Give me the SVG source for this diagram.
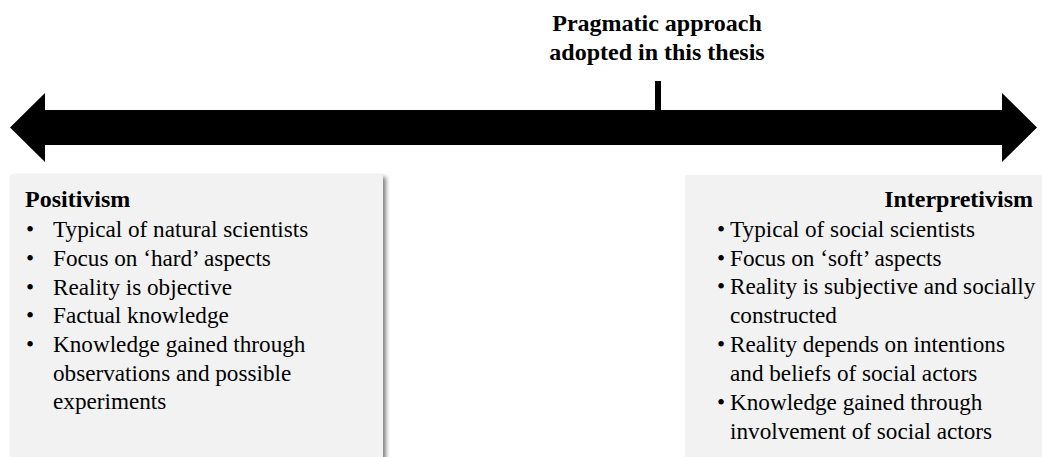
<svg xmlns="http://www.w3.org/2000/svg" width="1042" height="457" viewBox="0 0 1042 457">
  <defs>
    <filter id="shadow" x="-5%" y="-5%" width="115%" height="115%">
      <feGaussianBlur in="SourceAlpha" stdDeviation="2"/>
      <feOffset dx="3" dy="2" result="b"/>
      <feComponentTransfer><feFuncA type="linear" slope="0.5"/></feComponentTransfer>
      <feMerge><feMergeNode/><feMergeNode in="SourceGraphic"/></feMerge>
    </filter>
  </defs>
  <style>
    text { font-family: "Liberation Serif", "DejaVu Serif", serif; fill: #000; }
    .title { font-size: 24px; font-weight: bold; }
    .head { font-size: 24px; font-weight: bold; }
    .item { font-size: 23.2px; }
    .panel { fill: #f2f2f2; }
  </style>
  <rect width="1042" height="457" fill="#ffffff"/>

  <!-- caption above the scale -->
  <g id="pragmatic">
    <text class="title" x="657" y="31" text-anchor="middle">Pragmatic approach</text>
    <text class="title" x="657" y="60" text-anchor="middle">adopted in this thesis</text>
    <rect x="655" y="81" width="6" height="30" fill="#000"/>
  </g>

  <!-- double-headed scale arrow -->
  <g id="scale">
    <polygon points="10,127.5 45,93 45,110 1002,110 1002,93 1037,127.5 1002,162 1002,145 45,145 45,162" fill="#000"/>
  </g>

  <g id="positivism">
    <rect class="panel" x="10" y="175" width="373" height="300" filter="url(#shadow)"/>
    <text class="head" x="25" y="207">Positivism</text>
    <text class="item" x="26" y="237">•</text><text class="item" x="53" y="237">Typical of natural scientists</text>
    <text class="item" x="26" y="266">•</text><text class="item" x="53" y="266">Focus on ‘hard’ aspects</text>
    <text class="item" x="26" y="294.5">•</text><text class="item" x="53" y="294.5">Reality is objective</text>
    <text class="item" x="26" y="323">•</text><text class="item" x="53" y="323">Factual knowledge</text>
    <text class="item" x="26" y="352">•</text><text class="item" x="53" y="352">Knowledge gained through</text>
    <text class="item" x="53" y="380.5">observations and possible</text>
    <text class="item" x="53" y="409">experiments</text>
  </g>

  <g id="interpretivism">
    <rect class="panel" x="685" y="175" width="370" height="300"/>
    <text class="head" x="1033" y="207" text-anchor="end">Interpretivism</text>
    <text class="item" x="717" y="237">•</text><text class="item" x="730" y="237">Typical of social scientists</text>
    <text class="item" x="717" y="265.5">•</text><text class="item" x="730" y="265.5">Focus on ‘soft’ aspects</text>
    <text class="item" x="717" y="294">•</text><text class="item" x="730" y="294">Reality is subjective and socially</text>
    <text class="item" x="730" y="322.5">constructed</text>
    <text class="item" x="717" y="351.5">•</text><text class="item" x="730" y="351.5">Reality depends on intentions</text>
    <text class="item" x="730" y="380.5">and beliefs of social actors</text>
    <text class="item" x="717" y="409.5">•</text><text class="item" x="730" y="409.5">Knowledge gained through</text>
    <text class="item" x="730" y="438.5">involvement of social actors</text>
  </g>
</svg>
